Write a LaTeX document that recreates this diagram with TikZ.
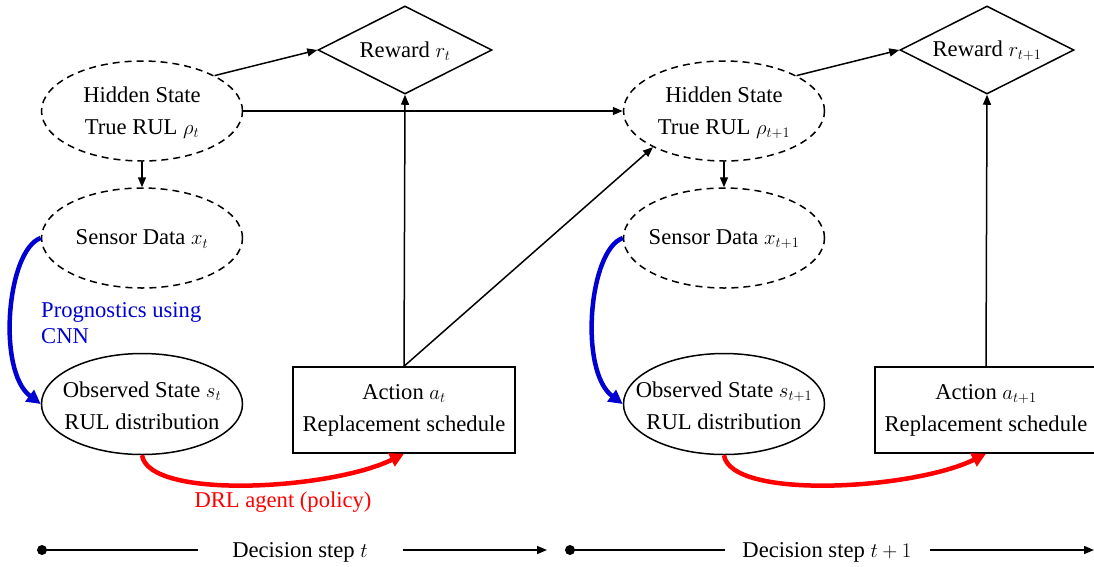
\documentclass[tikz,border=0pt]{standalone}
\usepackage{fontspec}
\setmainfont{Liberation Serif}
\usetikzlibrary{shapes.geometric,arrows.meta}
\definecolor{myblue}{RGB}{0,0,210}
\definecolor{myred}{RGB}{255,0,0}
\begin{document}
\begin{tikzpicture}[x=1pt,y=-1pt,
  every node/.style={font=\fontsize{22.6}{32}\selectfont, inner sep=0pt},
  dashell/.style={ellipse, draw, dash pattern=on 7pt off 5pt, line width=1.5pt, minimum width=201pt, minimum height=100pt},
  solell/.style={ellipse, draw, line width=1.5pt, minimum width=201pt, minimum height=101pt},
  rewd/.style={diamond, draw, line width=1.5pt, minimum width=174pt, minimum height=88pt},
  actbox/.style={rectangle, draw, line width=1.5pt, minimum width=222pt, minimum height=86pt, align=center},
  txt/.style={align=center},
  blk/.style={line width=1.5pt, -{Triangle[length=10pt,width=8pt]}},
  plain/.style={line width=1.5pt},
  bluearr/.style={draw=myblue, line width=4.5pt, -{Triangle[length=14pt,width=14pt]}},
  redarr/.style={draw=myred, line width=4.5pt, -{Triangle[length=14pt,width=14pt]}},
  bluetxt/.style={text=myblue, align=left, font=\fontsize{22.6}{26}\selectfont},
  redtxt/.style={text=myred}
]
\useasboundingbox (0,0) rectangle (1094,566);
\clip (0,0) rectangle (1094,566);
\fill[white] (0,0) rectangle (1094,566);

% ---------- decision step t ----------
\node[dashell] (h1) at (142,111) {};
\node[txt] (h1t) at (142,113) {Hidden State\\True RUL $\rho_t$};
\node[dashell] (s1) at (142,238) {};
\node[txt] (s1t) at (142,239) {Sensor Data $x_t$};
\node[solell] (o1) at (142,404) {};
\node[txt] (o1t) at (142,406) {Observed State $s_t$\\RUL distribution};
\node[rewd] (r1) at (405,50) {};
\node[txt] (r1t) at (405,51) {Reward $r_t$};
\node[actbox] (a1) at (404,410) {Action $a_t$\\Replacement schedule};

% ---------- decision step t+1 ----------
\node[dashell] (h2) at (724,111) {};
\node[txt] (h2t) at (724,113) {Hidden State\\True RUL $\rho_{t+1}$};
\node[dashell] (s2) at (724,238) {};
\node[txt] (s2t) at (724,239) {Sensor Data $x_{t+1}$};
\node[solell] (o2) at (724,404) {};
\node[txt] (o2t) at (724,406) {Observed State $s_{t+1}$\\RUL distribution};
\node[rewd] (r2) at (987,50) {};
\node[txt] (r2t) at (987,51) {Reward $r_{t+1}$};
\node[actbox] (a2) at (986,410) {Action $a_{t+1}$\\Replacement schedule};

% ---------- connectors ----------
\draw[blk] (h1.26) -- (r1.west);
\draw[blk] (h1.east) -- (h2.west);
\draw[blk] (h1.south) -- (s1.north);
\draw[blk] (a1.north) -- (r1.south);
\draw[blk] (a1.north) -- (h2.207);
\draw[bluearr] (s1.west) .. controls +(-34,12) and +(-44,-33) .. (o1.west);
\draw[redarr] (o1.south) .. controls +(7,45) and +(-73,36) .. (a1.south);

\draw[blk] (h2.26) -- (r2.west);
\draw[blk] (h2.south) -- (s2.north);
\draw[blk] (a2.north) -- (r2.south);
\draw[bluearr] (s2.west) .. controls +(-34,12) and +(-44,-33) .. (o2.west);
\draw[redarr] (o2.south) .. controls +(7,45) and +(-73,36) .. (a2.south);

\node[bluetxt, anchor=base west] (prog) at (41,343) {Prognostics using\\CNN};
\node[redtxt] (drl) at (283,502) {DRL agent (policy)};

% ---------- timeline ----------
\coordinate (d1) at (42,550);
\coordinate (d1e) at (198,550);
\coordinate (d1s) at (403,550);
\coordinate (d1t) at (547,550);
\fill (d1) circle[radius=5pt];
\draw[plain] (d1) -- (d1e);
\node[anchor=base] (dst1) at (300,557) {Decision step $t$};
\draw[blk] (d1s) -- (d1t);

\coordinate (d2) at (570,550);
\coordinate (d2e) at (725,550);
\coordinate (d2s) at (930,550);
\coordinate (d2t) at (1094,550);
\fill (d2) circle[radius=5pt];
\draw[plain] (d2) -- (d2e);
\node[anchor=base] (dst2) at (827,557) {Decision step $t+1$};
\draw[blk] (d2s) -- (d2t);
\end{tikzpicture}
\end{document}
